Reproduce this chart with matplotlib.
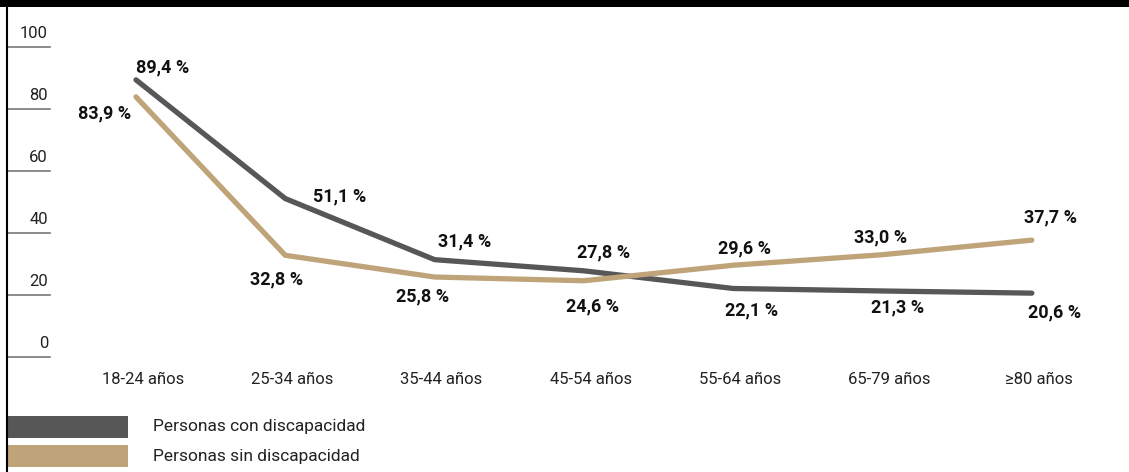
import matplotlib
matplotlib.use('Agg')
import matplotlib.pyplot as plt
from matplotlib.patches import Rectangle
from matplotlib.lines import Line2D

categories = ['18-24 años', '25-34 años', '35-44 años', '45-54 años',
              '55-64 años', '65-79 años', '≥80 años']
con_disc = [89.4, 51.1, 31.4, 27.8, 22.1, 21.3, 20.6]
sin_disc = [83.9, 32.8, 25.8, 24.6, 29.6, 33.0, 37.7]
series_names = ['Personas con discapacidad', 'Personas sin discapacidad']
yticks = [0, 20, 40, 60, 80, 100]

# label offsets in pixels (dx, dy)
off_con = [(27, 12), (54, 2), (30, 18), (20, 18), (18, -22), (15, -16), (23, -19)]
off_sin = [(-31, -17), (-9, -24), (-12, -19), (9, -26), (11, 17), (-2, 17), (19, 23)]

DARK = '#575757'
TAN = '#bfa47a'

plt.rcParams['font.family'] = ['Roboto', 'DejaVu Sans']

W, H = 1129, 472
fig = plt.figure(figsize=(W / 100, H / 100), dpi=100)

# axes: x from px 8 to W, y 0 at px 357, 100 at px 47
ax = fig.add_axes([8 / W, (H - 357) / H, (W - 8) / W, (357 - 47) / H])
step = 149.3
ax.set_xlim((8 - 136) / step, (W - 136) / step)
ax.set_ylim(0, 100)
ax.axis('off')

x = list(range(len(categories)))
ax.plot(x, con_disc, color=DARK, lw=3.8, solid_capstyle='round', zorder=3)
ax.plot(x, sin_disc, color=TAN, lw=3.8, solid_capstyle='round', zorder=4)

def fmt(v):
    return f'{v:.1f}'.replace('.', ',') + ' %'

for vals, offs in [(con_disc, off_con), (sin_disc, off_sin)]:
    for xi, v, o in zip(x, vals, offs):
        ax.annotate(fmt(v), (xi, v), xytext=o, textcoords='offset pixels',
                    ha='center', va='center', fontsize=13, fontweight='bold',
                    color='#111111')

# y gridline stubs and labels
ytr = ax.get_yaxis_transform()
stub = (50 - 8) / (W - 8)
for t in yticks:
    ax.plot([0, stub], [t, t], color='#777777', lw=1.2, transform=ytr, clip_on=False)
    ax.annotate(str(t), (stub, t), xycoords=ytr, xytext=(-2, 6), textcoords='offset pixels',
                ha='right', va='bottom', fontsize=12, color='#222222')

# category labels
xtr = ax.get_xaxis_transform()
for xi, c in zip(x, categories):
    ax.annotate(c, (xi, 0), xycoords=xtr, xytext=(7, -23), textcoords='offset pixels',
                ha='center', va='center', fontsize=12, color='#222222')

# frame decorations
fig.add_artist(Rectangle((0, 1 - 7 / H), 1, 7 / H, transform=fig.transFigure,
                         color='black', lw=0))
fig.add_artist(Line2D([7 / W, 7 / W], [0, 1], transform=fig.transFigure,
                      color='black', lw=1.5))

# legend
for i, (name, col) in enumerate(zip(series_names, [DARK, TAN])):
    top = 416 + i * 29
    fig.add_artist(Rectangle((8 / W, (H - top - 22) / H), 120 / W, 22 / H,
                             transform=fig.transFigure, color=col, lw=0))
    fig.text(153 / W, (H - top - 11) / H, name, ha='left', va='center',
             fontsize=12.5, color='#222222')

fig.savefig('out.png', dpi=100)
